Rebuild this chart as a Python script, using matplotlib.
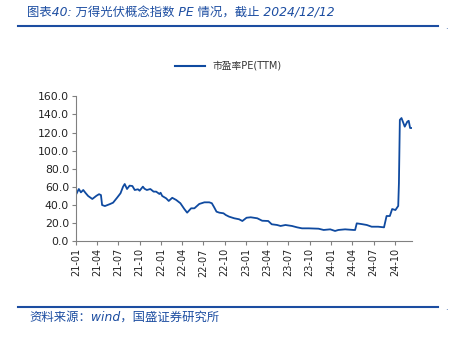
import matplotlib
matplotlib.use("Agg")
import matplotlib.pyplot as plt
import matplotlib.dates as mdates
from matplotlib.lines import Line2D
import pandas as pd

plt.rcParams['font.family'] = ['DejaVu Sans', 'Noto Sans CJK SC']

# PE(TTM) of the Wind PV concept index, read at irregular dates
dates = [
    '2021-01-04', '2021-01-13', '2021-01-22', '2021-02-01', '2021-02-12', '2021-02-22',
    '2021-03-12', '2021-03-30', '2021-04-10', '2021-04-18', '2021-04-23', '2021-05-05',
    '2021-05-26', '2021-06-09', '2021-06-26', '2021-07-11', '2021-07-22', '2021-07-29',
    '2021-08-08', '2021-08-19', '2021-08-31', '2021-09-10', '2021-09-24', '2021-10-01',
    '2021-10-15', '2021-10-22', '2021-11-01', '2021-11-16', '2021-11-30', '2021-12-11',
    '2021-12-25', '2021-12-30', '2022-01-06', '2022-01-23', '2022-02-03', '2022-02-18',
    '2022-03-07', '2022-03-25', '2022-04-11', '2022-04-23', '2022-05-10', '2022-05-24',
    '2022-06-14', '2022-07-06', '2022-07-27', '2022-08-07', '2022-08-17', '2022-08-27',
    '2022-09-08', '2022-09-26', '2022-10-06', '2022-10-20', '2022-11-11', '2022-12-02',
    '2022-12-16', '2023-01-03', '2023-01-21', '2023-02-18', '2023-03-11', '2023-04-06',
    '2023-04-21', '2023-05-14', '2023-05-29', '2023-06-19', '2023-07-17', '2023-08-08',
    '2023-08-29', '2023-09-27', '2023-11-08', '2023-11-30', '2023-12-28', '2024-01-18',
    '2024-02-01', '2024-03-01', '2024-04-06', '2024-04-13', '2024-04-20', '2024-05-11',
    '2024-06-02', '2024-06-23', '2024-07-21', '2024-08-15', '2024-08-26', '2024-09-09',
    '2024-09-19', '2024-10-03', '2024-10-15', '2024-10-18', '2024-10-22', '2024-10-29',
    '2024-11-12', '2024-11-23', '2024-11-29', '2024-12-05', '2024-12-12',
]
pe = [
    53.0, 57.7, 54.0, 56.6, 53.0, 50.0,
    46.7, 50.3, 52.0, 51.0, 40.0, 38.9,
    41.0, 42.6, 48.0, 53.0, 60.3, 63.2,
    57.7, 61.4, 61.0, 56.6, 57.4, 55.8,
    60.3, 58.0, 56.6, 57.7, 54.8, 54.8,
    52.2, 53.6, 50.0, 47.4, 44.5, 48.0,
    45.6, 42.0, 35.6, 31.6, 36.4, 36.4,
    41.2, 43.0, 43.0, 42.0, 37.5, 32.7,
    31.6, 30.9, 29.0, 27.2, 25.4, 24.3,
    22.4, 26.0, 26.5, 25.4, 22.7, 22.4,
    18.8, 18.0, 16.9, 18.0, 16.9, 15.4,
    14.3, 14.3, 13.9, 12.5, 13.2, 11.4,
    12.5, 13.2, 12.5, 12.5, 19.8, 19.0,
    18.0, 16.1, 16.1, 15.4, 27.9, 27.9,
    35.6, 34.5, 39.0, 64.0, 134.0, 136.0,
    126.5, 132.0, 133.0, 125.0, 125.0,
]
ticks = pd.date_range('2021-01-01', '2024-10-01', freq='QS')

blue = '#1c4da1'
line_blue = '#0f4aa0'

fig = plt.figure(figsize=(4.49, 3.4), dpi=100)
ax = fig.add_axes([0.1693, 0.2903, 0.9170 - 0.1693, 0.7168 - 0.2903])

ax.plot(pd.to_datetime(dates), pe, color=line_blue, lw=1.3)

ax.set_ylim(0, 160)
ax.set_yticks(range(0, 161, 20))
ax.set_yticklabels([f'{v:.1f}' for v in range(0, 161, 20)])
ax.set_xlim(pd.Timestamp('2021-01-01'), pd.Timestamp('2024-12-12'))
ax.set_xticks(ticks)
ax.xaxis.set_major_formatter(mdates.DateFormatter('%y-%m'))
plt.setp(ax.get_xticklabels(), rotation=90)
ax.tick_params(labelsize=7, color='#808080', length=3, width=0.8, labelcolor='#222222', pad=2)
ax.tick_params(axis='y', labelsize=7.8)
for s in ['top', 'right']:
    ax.spines[s].set_visible(False)
for s in ['left', 'bottom']:
    ax.spines[s].set_color('#808080')
    ax.spines[s].set_linewidth(0.8)

# legend drawn by hand above the plot
fig.add_artist(Line2D([0.39, 0.457], [0.806, 0.806], color=line_blue, lw=1.5))
fig.text(0.474, 0.806, '市盈率PE(TTM)', fontsize=7, color='#333333', va='center',
         family=['DejaVu Sans', 'Noto Sans CJK SC'])

# header and footer
fig.text(0.06, 0.962, '图表40: 万得光伏概念指数 PE 情况，截止 2024/12/12', fontsize=8.9,
         color=blue, style='italic', va='center', family=['DejaVu Sans', 'Noto Sans CJK SC'])
fig.add_artist(Line2D([0.04, 0.975], [0.9235, 0.9235], color=blue, lw=1.5))
fig.add_artist(Line2D([0.04, 0.975], [0.097, 0.097], color=blue, lw=1.5))
fig.text(0.998, 0.9235, '.', fontsize=6, color=blue, ha='right', va='center')
fig.text(0.998, 0.097, '.', fontsize=6, color=blue, ha='right', va='center')
fig.text(0.065, 0.068, '资料来源：wind，国盛证券研究所', fontsize=8.9, color=blue,
         style='italic', va='center', family=['DejaVu Sans', 'Noto Sans CJK SC'])

fig.savefig('out.png', dpi=100)
